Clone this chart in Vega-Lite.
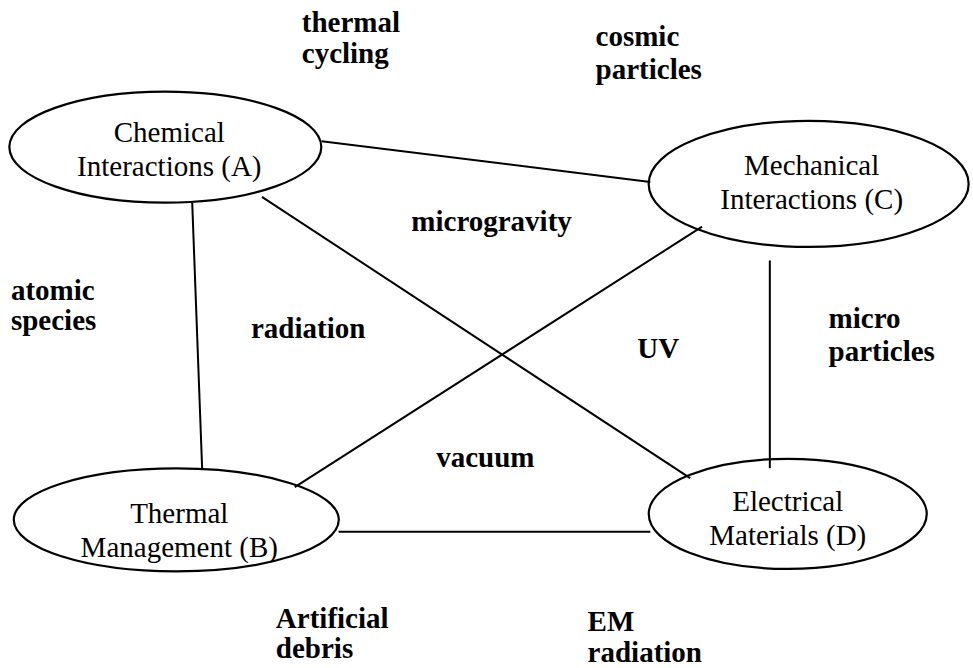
{
  "$schema": "https://vega.github.io/schema/vega-lite/v6.json",
  "width": 973,
  "height": 668,
  "padding": 0,
  "autosize": {"type": "fit", "contains": "padding"},
  "background": "white",
  "config": {"view": {"stroke": null}},
  "datasets": {
    "nodes": [
      {"id": "A", "x": 166, "y": 148},
      {"id": "B", "x": 177, "y": 523},
      {"id": "C", "x": 812, "y": 185},
      {"id": "D", "x": 791, "y": 517}
    ],
    "edges": [
      {"from": "A", "to": "C", "x1": 323, "y1": 142, "x2": 653, "y2": 183},
      {"from": "A", "to": "B", "x1": 193, "y1": 204, "x2": 203, "y2": 472},
      {"from": "A", "to": "D", "x1": 263, "y1": 198, "x2": 693, "y2": 481},
      {"from": "C", "to": "B", "x1": 705, "y1": 228, "x2": 296, "y2": 490},
      {"from": "C", "to": "D", "x1": 773, "y1": 262, "x2": 773, "y2": 471},
      {"from": "B", "to": "D", "x1": 340, "y1": 535, "x2": 653, "y2": 535}
    ],
    "nodeText": [
      {"text": "Chemical", "x": 170, "y": 143},
      {"text": "Interactions (A)", "x": 170, "y": 177},
      {"text": "Mechanical", "x": 815, "y": 176},
      {"text": "Interactions (C)", "x": 815, "y": 210},
      {"text": "Thermal", "x": 180, "y": 526},
      {"text": "Management (B)", "x": 180, "y": 560},
      {"text": "Electrical", "x": 791, "y": 514},
      {"text": "Materials (D)", "x": 791, "y": 548}
    ],
    "factors": [
      {"text": "thermal", "x": 303, "y": 32},
      {"text": "cycling", "x": 303, "y": 63},
      {"text": "cosmic", "x": 598, "y": 46},
      {"text": "particles", "x": 598, "y": 79},
      {"text": "microgravity", "x": 413, "y": 232},
      {"text": "atomic", "x": 11, "y": 302},
      {"text": "species", "x": 11, "y": 332},
      {"text": "radiation", "x": 252, "y": 340},
      {"text": "UV", "x": 640, "y": 360},
      {"text": "micro", "x": 832, "y": 330},
      {"text": "particles", "x": 832, "y": 363},
      {"text": "vacuum", "x": 438, "y": 470},
      {"text": "Artificial", "x": 277, "y": 632},
      {"text": "debris", "x": 277, "y": 662},
      {"text": "EM", "x": 590, "y": 635},
      {"text": "radiation", "x": 590, "y": 666}
    ]
  },
  "layer": [
    {
      "data": {"name": "edges"},
      "mark": {"type": "rule", "stroke": "black", "strokeWidth": 2},
      "encoding": {
        "x": {"field": "x1", "type": "quantitative", "scale": {"domain": [0, 973], "nice": false}, "axis": null},
        "y": {"field": "y1", "type": "quantitative", "scale": {"domain": [0, 668], "nice": false, "reverse": true}, "axis": null},
        "x2": {"field": "x2"},
        "y2": {"field": "y2"}
      }
    },
    {
      "data": {"name": "nodes"},
      "transform": [{"filter": "datum.id === 'A'"}],
      "mark": {"type": "point", "shape": "M-1,0A1,0.356 0 1,0 1,0A1,0.356 0 1,0 -1,0Z", "size": 97344, "filled": false, "stroke": "black", "strokeWidth": 2.2, "opacity": 1},
      "encoding": {
        "x": {"field": "x", "type": "quantitative", "scale": {"domain": [0, 973], "nice": false}, "axis": null},
        "y": {"field": "y", "type": "quantitative", "scale": {"domain": [0, 668], "nice": false, "reverse": true}, "axis": null}
      }
    },
    {
      "data": {"name": "nodes"},
      "transform": [{"filter": "datum.id === 'B'"}],
      "mark": {"type": "point", "shape": "M-1,0A1,0.317 0 1,0 1,0A1,0.317 0 1,0 -1,0Z", "size": 105625, "filled": false, "stroke": "black", "strokeWidth": 2.2, "opacity": 1},
      "encoding": {
        "x": {"field": "x", "type": "quantitative", "scale": {"domain": [0, 973], "nice": false}, "axis": null},
        "y": {"field": "y", "type": "quantitative", "scale": {"domain": [0, 668], "nice": false, "reverse": true}, "axis": null}
      }
    },
    {
      "data": {"name": "nodes"},
      "transform": [{"filter": "datum.id === 'C'"}],
      "mark": {"type": "point", "shape": "M-1,0A1,0.394 0 1,0 1,0A1,0.394 0 1,0 -1,0Z", "size": 102400, "filled": false, "stroke": "black", "strokeWidth": 2.2, "opacity": 1},
      "encoding": {
        "x": {"field": "x", "type": "quantitative", "scale": {"domain": [0, 973], "nice": false}, "axis": null},
        "y": {"field": "y", "type": "quantitative", "scale": {"domain": [0, 668], "nice": false, "reverse": true}, "axis": null}
      }
    },
    {
      "data": {"name": "nodes"},
      "transform": [{"filter": "datum.id === 'D'"}],
      "mark": {"type": "point", "shape": "M-1,0A1,0.396 0 1,0 1,0A1,0.396 0 1,0 -1,0Z", "size": 77284, "filled": false, "stroke": "black", "strokeWidth": 2.2, "opacity": 1},
      "encoding": {
        "x": {"field": "x", "type": "quantitative", "scale": {"domain": [0, 973], "nice": false}, "axis": null},
        "y": {"field": "y", "type": "quantitative", "scale": {"domain": [0, 668], "nice": false, "reverse": true}, "axis": null}
      }
    },
    {
      "data": {"name": "nodeText"},
      "mark": {"type": "text", "font": "Liberation Serif", "fontSize": 29, "align": "center", "baseline": "alphabetic", "color": "black"},
      "encoding": {
        "x": {"field": "x", "type": "quantitative", "scale": {"domain": [0, 973], "nice": false}, "axis": null},
        "y": {"field": "y", "type": "quantitative", "scale": {"domain": [0, 668], "nice": false, "reverse": true}, "axis": null},
        "text": {"field": "text"}
      }
    },
    {
      "data": {"name": "factors"},
      "mark": {"type": "text", "font": "Liberation Serif", "fontSize": 29, "fontWeight": "bold", "align": "left", "baseline": "alphabetic", "color": "black"},
      "encoding": {
        "x": {"field": "x", "type": "quantitative", "scale": {"domain": [0, 973], "nice": false}, "axis": null},
        "y": {"field": "y", "type": "quantitative", "scale": {"domain": [0, 668], "nice": false, "reverse": true}, "axis": null},
        "text": {"field": "text"}
      }
    }
  ]
}
